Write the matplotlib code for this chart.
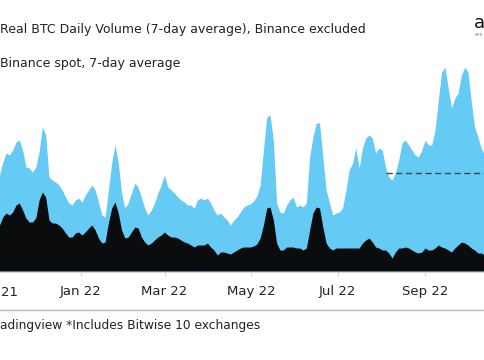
import matplotlib
matplotlib.use("Agg")
import matplotlib.pyplot as plt
import pandas as pd

# ---------------- DATA ----------------
start_date = "2021-11-05"
end_date = "2022-10-13"

# Real BTC daily volume (7-day average), Binance excluded
real_volume = [
    4.80, 5.45, 5.90, 5.80, 6.05, 6.45, 6.55, 6.05, 5.20, 5.15,
    4.95, 5.20, 5.95, 7.20, 6.80, 4.70, 4.55, 4.45, 4.30, 4.05,
    3.70, 3.40, 3.30, 3.55, 3.65, 3.45, 3.80, 4.05, 4.30, 4.05,
    3.45, 2.80, 2.70, 4.05, 5.40, 6.30, 5.40, 3.90, 3.15, 3.40,
    3.90, 4.40, 4.20, 3.70, 3.15, 2.80, 3.05, 3.40, 3.90, 4.30,
    4.80, 4.20, 4.05, 3.90, 3.70, 3.55, 3.45, 3.30, 3.30, 3.15,
    3.55, 3.65, 3.55, 3.65, 3.40, 3.05, 2.80, 2.90, 2.70, 2.55,
    2.30, 2.55, 2.70, 2.95, 3.20, 3.30, 3.35, 3.50, 3.75, 4.30,
    6.05, 7.70, 7.80, 6.55, 3.40, 2.95, 2.90, 3.30, 3.55, 3.70,
    3.20, 3.30, 3.20, 3.40, 5.70, 6.70, 7.40, 7.40, 5.70, 4.05,
    3.40, 2.80, 2.90, 2.95, 3.15, 4.05, 5.05, 5.40, 6.15, 5.15,
    6.15, 6.65, 6.80, 6.65, 5.90, 6.15, 6.05, 5.20, 4.70, 4.55,
    4.90, 5.55, 6.40, 6.55, 6.30, 6.05, 5.80, 5.70, 6.05, 6.55,
    6.30, 6.30, 7.05, 8.55, 9.95, 10.20, 9.15, 8.15, 8.65, 8.90,
    9.80, 10.20, 9.95, 8.45, 7.20, 6.70, 6.15, 5.80,
]

# Binance spot, 7-day average
binance_spot = [
    2.30, 2.70, 2.90, 2.80, 2.95, 3.30, 3.40, 3.05, 2.65, 2.45,
    2.45, 2.65, 3.55, 3.95, 3.70, 2.55, 2.40, 2.40, 2.30, 2.15,
    1.90, 1.70, 1.70, 1.90, 1.95, 1.80, 1.95, 2.15, 2.30, 2.05,
    1.65, 1.40, 1.45, 2.40, 3.15, 3.45, 2.90, 2.05, 1.65, 1.70,
    1.95, 2.20, 2.15, 1.70, 1.45, 1.30, 1.40, 1.55, 1.70, 1.80,
    1.95, 1.80, 1.70, 1.70, 1.65, 1.55, 1.45, 1.40, 1.30, 1.20,
    1.30, 1.30, 1.30, 1.40, 1.20, 1.05, 0.80, 0.95, 0.95, 0.90,
    0.85, 0.95, 1.05, 1.15, 1.20, 1.20, 1.20, 1.25, 1.35, 1.65,
    2.30, 3.15, 3.20, 2.55, 1.40, 1.05, 1.05, 1.20, 1.20, 1.20,
    1.15, 1.15, 1.05, 1.15, 2.05, 2.90, 3.20, 3.15, 2.20, 1.40,
    1.15, 1.05, 1.15, 1.15, 1.15, 1.15, 1.15, 1.15, 1.15, 1.15,
    1.40, 1.55, 1.65, 1.45, 1.20, 1.15, 1.05, 1.05, 0.90, 0.65,
    0.95, 1.15, 1.15, 1.20, 1.15, 1.05, 0.95, 0.90, 0.95, 1.15,
    1.05, 1.05, 1.15, 1.30, 1.20, 1.15, 1.05, 0.95, 1.15, 1.30,
    1.45, 1.40, 1.30, 1.15, 1.05, 0.90, 0.90, 0.80,
]

ref_level = 4.95
ref_start = "2022-08-04"

tick_dates = ["2022-01-01", "2022-03-01", "2022-05-01",
              "2022-07-01", "2022-09-01"]
tick_labels = ["Jan 22", "Mar 22", "May 22", "Jul 22", "Sep 22"]
# first month label sits just past the left edge of the crop
edge_tick_date = "2021-11-01"
edge_tick_label = "Nov 21"

title_text = "Real BTC Daily Volume (7-day average), Binance excluded"
legend_text = "Binance spot, 7-day average"
footer_text = "adingview *Includes Bitwise 10 exchanges"

# ---------------- COLOURS ----------------
BLUE = "#65cbf4"
BLACK = "#0b0c0e"
TEXT = "#222222"

# ---------------- PLOT ----------------
dates = pd.date_range(start_date, end_date, periods=len(real_volume))

fig = plt.figure(figsize=(4.85, 3.6), dpi=100)
ax = fig.add_axes([0.0, 0.2458, 1.0, 0.5833])

ax.fill_between(dates, 0, real_volume, color=BLUE, linewidth=0)
ax.fill_between(dates, 0, binance_spot, color=BLACK, linewidth=0)
ax.hlines(ref_level, pd.Timestamp(ref_start), dates[-1], colors="#3b4756",
          linestyles=(0, (4.5, 2.5)), linewidth=1.0)

ax.set_xticks(pd.to_datetime(tick_dates))
ax.set_xticklabels(tick_labels)
# ticks first, then limits (set_xticks widens the view otherwise)
ax.set_xlim(dates[0], dates[-1])
ax.set_ylim(0, 10.5)
ax.set_yticks([])
ax.tick_params(axis="x", length=3, width=0.8, color="#d8d8d8",
               labelsize=9.5, labelcolor=TEXT, pad=7)
for side in ["top", "left", "right"]:
    ax.spines[side].set_visible(False)
ax.spines["bottom"].set_color("#d8d8d8")
ax.spines["bottom"].set_linewidth(0.8)

ax.text(pd.Timestamp(edge_tick_date), -0.098, edge_tick_label,
        transform=ax.get_xaxis_transform(), fontsize=9.5, color=TEXT,
        ha="center", va="center", clip_on=False)

# legend texts (their markers sit beyond the left edge)
fig.text(0.0, 1 - 30 / 360, title_text, fontsize=9, color=TEXT,
         ha="left", va="center")
fig.text(0.0, 1 - 63 / 360, legend_text, fontsize=9, color=TEXT,
         ha="left", va="center")

# logo
fig.text(0.978, 1 - 23 / 360, "a", fontsize=13, fontweight="medium",
         color="#111111", ha="left", va="center")
fig.text(0.978, 1 - 34 / 360, "res", fontsize=4, color="#888888",
         ha="left", va="center")

# footer
fig.add_artist(plt.Line2D([0, 1], [1 - 310 / 360, 1 - 310 / 360],
                          color="#a9bcd6", linewidth=1.0))
fig.text(0.0, 1 - 325 / 360, footer_text, fontsize=8.8, color=TEXT,
         ha="left", va="center")

fig.savefig("out.png", dpi=100)
